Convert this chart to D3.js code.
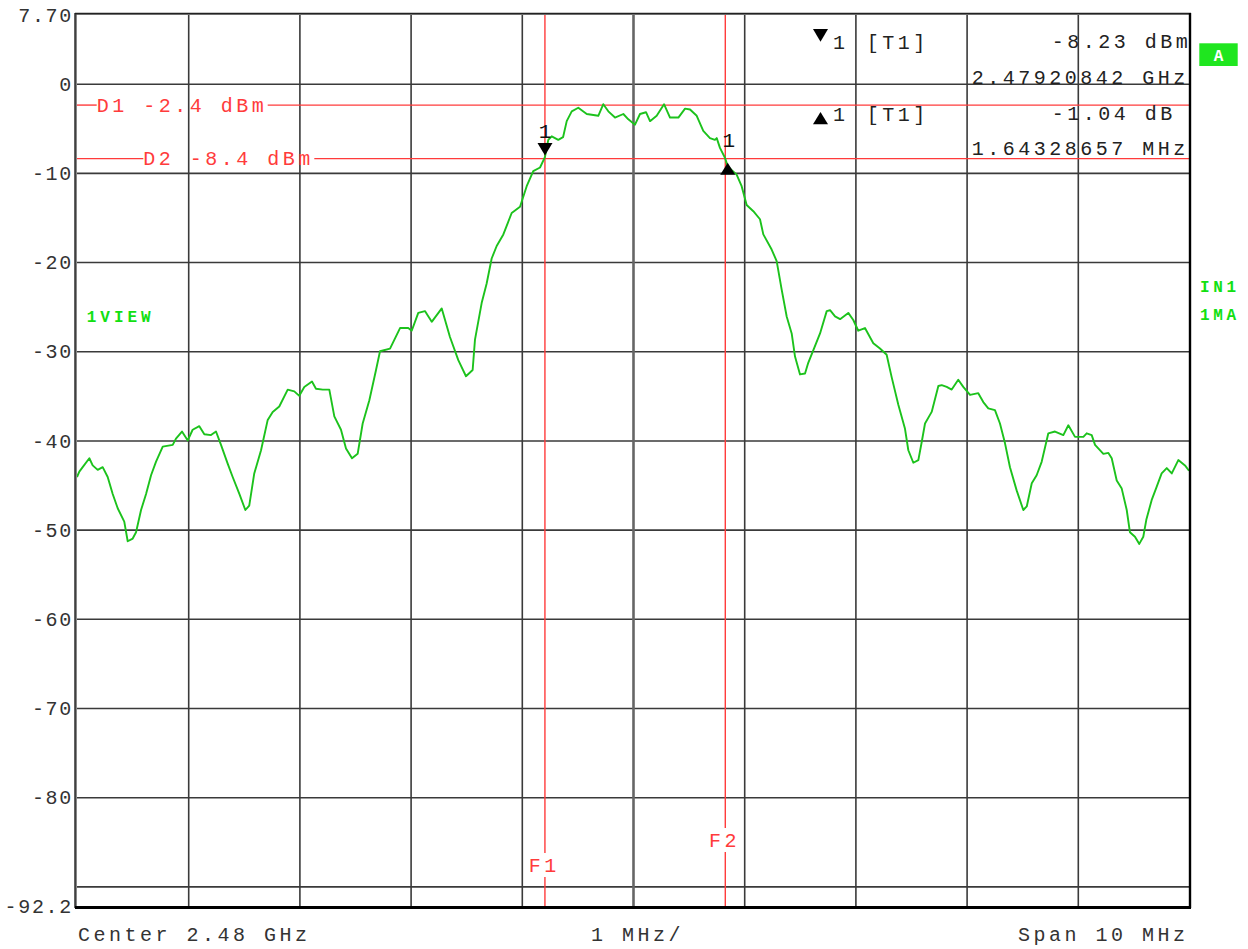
<!DOCTYPE html>
<html>
<head>
<meta charset="utf-8">
<script src="https://cdn.jsdelivr.net/npm/d3@7"></script>
<style>
  html, body { margin: 0; padding: 0; background: #fff; }
  svg { display: block; }
  text { font-family: "Liberation Mono", "DejaVu Sans Mono", monospace; }
</style>
</head>
<body>
<svg id="chart" width="1248" height="949"></svg>
<script>
// ---- Sweep settings ----
const spanMHz = 10;                 // 2.475 GHz .. 2.485 GHz
const refLevel = 7.7;               // dBm, top of screen
const bottomLevel = -92.2;          // dBm, bottom of screen
const levelGrid = [0, -10, -20, -30, -40, -50, -60, -70, -80, -90];
const levelTickValues = [7.7, 0, -10, -20, -30, -40, -50, -60, -70, -80, -92.2];
const levelTickLabels = ["7.70", "0", "-10", "-20", "-30", "-40", "-50", "-60", "-70", "-80", "-92.2"];
const freqGrid = [1, 2, 3, 4, 5, 6, 7, 8, 9];
const footerLabels = ["Center 2.48 GHz", "1 MHz/", "Span 10 MHz"];

// ---- Trace 1: frequency above span start (MHz) and level (dBm) ----
const traceOffset = [
  0.000, 0.021, 0.051, 0.111, 0.141, 0.186, 0.231, 0.276, 0.321, 0.366,
  0.425, 0.456, 0.501, 0.531, 0.576, 0.621, 0.666, 0.710, 0.771, 0.861,
  0.890, 0.944, 0.996, 1.040, 1.100, 1.145, 1.205, 1.250, 1.295, 1.355,
  1.400, 1.460, 1.514, 1.549, 1.594, 1.655, 1.715, 1.760, 1.819, 1.895,
  1.954, 1.999, 2.044, 2.113, 2.149, 2.210, 2.269, 2.314, 2.374, 2.419,
  2.473, 2.524, 2.569, 2.629, 2.689,
  2.725, 2.815, 2.905, 2.979, 3.010, 3.069, 3.129, 3.190, 3.280, 3.354,
  3.429, 3.498, 3.558, 3.579, 3.639, 3.684, 3.729, 3.774, 3.834, 3.909,
  3.984, 4.044, 4.103, 4.164, 4.208, 4.238, 4.269, 4.328, 4.371, 4.404,
  4.449, 4.508, 4.584, 4.688, 4.733, 4.778, 4.838, 4.913, 4.958, 5.018,
  5.063, 5.117, 5.153, 5.213, 5.279, 5.333, 5.408, 5.468, 5.513, 5.573,
  5.632, 5.692, 5.737, 5.753, 5.782, 5.827, 5.852, 5.932, 5.977, 6.022,
  6.082, 6.142, 6.172, 6.247, 6.292, 6.337, 6.382, 6.427, 6.457, 6.502,
  6.547, 6.576, 6.621, 6.682, 6.742, 6.772, 6.817, 6.862, 6.936, 6.981,
  7.026, 7.086, 7.161, 7.221, 7.281, 7.326, 7.386, 7.446, 7.476, 7.521,
  7.566, 7.596, 7.626, 7.686, 7.746, 7.776, 7.821, 7.866, 7.925, 7.970,
  8.031, 8.105, 8.150, 8.195, 8.255, 8.300, 8.345, 8.390, 8.450, 8.510,
  8.541, 8.586, 8.630, 8.675, 8.735, 8.795, 8.870, 8.915, 8.975, 9.050,
  9.080, 9.125, 9.155, 9.230, 9.275, 9.305, 9.350, 9.395, 9.440, 9.469,
  9.514, 9.553, 9.589, 9.616, 9.664, 9.709, 9.754, 9.800, 9.845, 9.904,
  9.964, 10.000
];
const traceLevel = [
  -44.1, -43.5, -43.0, -42.0, -42.8, -43.3, -43.0, -44.1, -46.0, -47.6,
  -49.1, -51.3, -51.0, -50.3, -47.8, -46.0, -43.9, -42.4, -40.7, -40.5,
  -39.8, -39.0, -40.0, -38.8, -38.4, -39.3, -39.4, -39.0, -40.5, -42.6,
  -44.1, -46.0, -47.8, -47.3, -43.7, -41.1, -37.7, -36.8, -36.2, -34.3,
  -34.5, -35.0, -34.0, -33.4, -34.2, -34.3, -34.3, -37.3, -38.8, -40.9,
  -42.0, -41.5, -38.1, -35.5, -32.1,
  -30.0, -29.7, -27.4, -27.4, -27.7, -25.7, -25.5, -26.7, -25.2, -28.4,
  -31.0, -32.8, -32.1, -28.7, -24.6, -22.4, -19.6, -18.2, -16.9, -14.5,
  -13.8, -11.5, -9.8, -9.4, -8.23, -6.3, -5.9, -6.3, -6.0, -4.2,
  -3.1, -2.7, -3.4, -3.6, -2.3, -3.1, -3.8, -3.4, -4.0, -4.6,
  -3.4, -3.2, -4.2, -3.6, -2.3, -3.8, -3.8, -2.8, -2.9, -3.6,
  -5.3, -6.1, -6.3, -6.1, -7.2, -8.3, -9.27, -10.2, -11.5, -13.6,
  -14.3, -15.2, -16.9, -18.6, -19.9, -23.1, -26.1, -28.0, -30.6, -32.6,
  -32.5, -31.3, -29.9, -28.0, -25.5, -25.4, -26.1, -26.4, -25.7, -26.5,
  -27.7, -27.4, -29.1, -29.7, -30.4, -32.9, -36.0, -38.7, -41.1, -42.5,
  -42.2, -40.2, -38.1, -36.8, -33.9, -33.8, -34.0, -34.3, -33.2, -34.0,
  -34.9, -34.7, -35.7, -36.4, -36.6, -38.1, -40.3, -43.0, -45.6, -47.8,
  -47.4, -44.8, -43.9, -42.4, -39.2, -39.0, -39.4, -38.3, -39.6, -39.6,
  -39.2, -39.4, -40.5, -41.5, -41.4, -42.0, -44.5, -45.4, -47.8, -50.3,
  -50.8, -51.6, -50.8, -48.9, -46.7, -45.2, -43.7, -43.1, -43.7, -42.2,
  -42.8, -43.4
];

// ---- Display lines and frequency lines ----
const displayLineNames = ["D1", "D2"];
const displayLineLevels = [-2.4, -8.4];
const freqLineNames = ["F1", "F2"];
const freqLineOffsets = [4.208, 5.83];

// ---- Marker 1 and delta marker 1 ----
const markerOffset = 4.20842;       // MHz above span start
const markerLevel = -8.23;          // dBm
const markerFreqText = "2.47920842 GHz";
const deltaOffset = 1.64328657;     // MHz
const deltaLevel = -1.04;           // dB

// ---- Side annotations ----
const leftTags = ["1VIEW"];
const rightTags = ["IN1", "1MA"];
const traceTag = "A";

// ================= drawing =================
const svg = d3.select("#chart");
const W = 1248, H = 949;
const plot = { left: 77, right: 1189, top: 15, bottom: 906 };
const ADV = 15.5;            // character pitch of the screen font
const LS = ADV - 12;         // letter spacing for 20px mono

const x = d3.scaleLinear().domain([0, spanMHz]).range([plot.left, plot.right]);
const y = d3.scaleLinear().domain([refLevel, bottomLevel]).range([plot.top, plot.bottom]);

svg.append("rect").attr("width", W).attr("height", H).attr("fill", "#fff");

svg.append("defs").append("clipPath").attr("id", "plotClip")
  .append("rect")
  .attr("x", plot.left).attr("y", plot.top)
  .attr("width", plot.right - plot.left).attr("height", plot.bottom - plot.top);

// grid
const gridH = svg.append("g")
  .attr("transform", `translate(${plot.left},0)`)
  .call(d3.axisLeft(y).tickValues(levelGrid).tickSize(-(plot.right - plot.left)).tickFormat(""));
gridH.select(".domain").remove();
gridH.selectAll(".tick line").attr("stroke", "#3a3a3a").attr("stroke-width", 1.6);

const gridV = svg.append("g")
  .attr("transform", `translate(0,${plot.bottom})`)
  .call(d3.axisBottom(x).tickValues(freqGrid).tickSize(-(plot.bottom - plot.top)).tickFormat(""));
gridV.select(".domain").remove();
gridV.selectAll(".tick line")
  .attr("stroke", d => d === 5 ? "#666" : "#3a3a3a")
  .attr("stroke-width", d => d === 5 ? 2.6 : 1.6);

// level labels
const yLab = svg.append("g")
  .attr("transform", `translate(${plot.left},0)`)
  .call(d3.axisLeft(y).tickValues(levelTickValues).tickSize(0).tickPadding(4)
    .tickFormat((d, i) => levelTickLabels[i]));
yLab.select(".domain").remove();
yLab.selectAll(".tick text")
  .attr("fill", "#333")
  .attr("font-size", 20)
  .attr("font-family", "Liberation Mono, DejaVu Sans Mono, monospace")
  .attr("letter-spacing", 1.7)
  .attr("dy", "0.33em");

// footer
const footerX = [plot.left + 1, 591, 1018];
footerLabels.forEach((t, i) => {
  svg.append("text").attr("x", footerX[i]).attr("y", 941)
    .attr("font-size", 20).attr("letter-spacing", LS).attr("fill", "#333").text(t);
});

// display lines (horizontal, broken by their labels)
const red = "#ff3b3b";
const dLabelStart = [19.7, 66.3];  // px from plot left
displayLineNames.forEach((name, i) => {
  const lv = displayLineLevels[i];
  const yy = y(lv);
  const label = `${name} ${lv.toFixed(1)} dBm`;
  const x0 = plot.left + dLabelStart[i];
  const x1 = x0 + label.length * ADV - LS + 4;
  svg.append("line").attr("x1", plot.left).attr("x2", x0).attr("y1", yy).attr("y2", yy)
    .attr("stroke", red).attr("stroke-width", 1.4);
  svg.append("line").attr("x1", x1).attr("x2", plot.right).attr("y1", yy).attr("y2", yy)
    .attr("stroke", red).attr("stroke-width", 1.4);
  svg.append("text").attr("x", x0).attr("y", yy + 6.5)
    .attr("font-size", 20).attr("letter-spacing", LS).attr("fill", red).text(label);
});

// frequency lines (vertical, broken by their labels)
const fLabelBase = [872, 847];
freqLineNames.forEach((name, i) => {
  const xx = x(freqLineOffsets[i]);
  const b = fLabelBase[i];
  svg.append("line").attr("x1", xx).attr("x2", xx).attr("y1", plot.top).attr("y2", b - 19)
    .attr("stroke", red).attr("stroke-width", 1.4);
  svg.append("line").attr("x1", xx).attr("x2", xx).attr("y1", b + 5).attr("y2", plot.bottom)
    .attr("stroke", red).attr("stroke-width", 1.4);
  svg.append("text").attr("x", xx - 16.2).attr("y", b)
    .attr("font-size", 20).attr("letter-spacing", LS).attr("fill", red).text(name);
});

// trace
const traceData = traceOffset.map((f, i) => ({ f, v: traceLevel[i] }));
svg.append("path")
  .datum(traceData)
  .attr("clip-path", "url(#plotClip)")
  .attr("fill", "none")
  .attr("stroke", "#1cc21c")
  .attr("stroke-width", 1.9)
  .attr("stroke-linejoin", "round")
  .attr("d", d3.line().x(d => x(d.f)).y(d => y(d.v)));

// markers
const downTri = (cx, tipY, w, h) => `M${cx - w / 2},${tipY - h}L${cx + w / 2},${tipY - h}L${cx},${tipY}Z`;
const upTri = (cx, apexY, w, h) => `M${cx},${apexY}L${cx + w / 2},${apexY + h}L${cx - w / 2},${apexY + h}Z`;

const mx = x(markerOffset), my = y(markerLevel);
svg.append("path").attr("d", downTri(mx, my - 1.5, 15, 12.5)).attr("fill", "#000");
svg.append("text").attr("x", mx).attr("y", my - 19).attr("text-anchor", "middle")
  .attr("font-size", 21).attr("fill", "#111").text("1");

const dx = x(markerOffset + deltaOffset), dy = y(markerLevel + deltaLevel);
svg.append("path").attr("d", upTri(dx, dy - 3.5, 15, 12)).attr("fill", "#000");
svg.append("text").attr("x", dx + 1).attr("y", dy - 19.5).attr("text-anchor", "middle")
  .attr("font-size", 21).attr("fill", "#111").text("1");

// marker readout
svg.append("defs").append("clipPath").attr("id", "readClip")
  .append("rect").attr("x", 0).attr("y", 0).attr("width", plot.right - 1).attr("height", H);
const rd = svg.append("g").attr("clip-path", "url(#readClip)").attr("fill", "#222");
const rtext = (t, xx, yy) => rd.append("text").attr("x", xx).attr("y", yy)
  .attr("font-size", 20).attr("letter-spacing", LS).text(t);

svg.append("path").attr("d", downTri(820.5, 41.7, 15, 12.7)).attr("fill", "#000");
rtext("1", 833, 49);
rtext("[T1]", 866.7, 49);
rtext(`${markerLevel.toFixed(2)} dBm`, 1051.7, 48);
rtext(markerFreqText, 971.7, 83.5);

svg.append("path").attr("d", upTri(820.5, 112, 15, 12.3)).attr("fill", "#000");
rtext("1", 833, 120.5);
rtext("[T1]", 866.7, 120.5);
rtext(`${deltaLevel.toFixed(2)} dB`, 1051.7, 120);
rtext(`${deltaOffset.toFixed(8)} MHz`, 971.7, 155);

// frame
svg.append("rect")
  .attr("x", plot.left - 1).attr("y", plot.top - 1)
  .attr("width", plot.right - plot.left + 2).attr("height", plot.bottom - plot.top + 2)
  .attr("fill", "none").attr("stroke", "#555").attr("stroke-width", 1.4);
svg.append("line").attr("x1", plot.left - 2).attr("x2", plot.left - 2)
  .attr("y1", plot.top - 2).attr("y2", plot.bottom + 2).attr("stroke", "#222").attr("stroke-width", 1.4);
svg.append("line").attr("x1", plot.left - 2).attr("x2", plot.right + 2)
  .attr("y1", plot.top - 1.5).attr("y2", plot.top - 1.5).attr("stroke", "#222").attr("stroke-width", 1.4);
svg.append("line").attr("x1", plot.right + 1).attr("x2", plot.right + 1)
  .attr("y1", plot.top - 2).attr("y2", plot.bottom + 2).attr("stroke", "#000").attr("stroke-width", 2.4);
svg.append("line").attr("x1", plot.left - 2).attr("x2", plot.right + 2)
  .attr("y1", plot.bottom + 1.5).attr("y2", plot.bottom + 1.5).attr("stroke", "#000").attr("stroke-width", 3);

// side tags
const green = "#12e012";
leftTags.forEach((t, i) => {
  svg.append("text").attr("x", 86.7).attr("y", 321.5 + i * 28)
    .attr("font-size", 16).attr("font-weight", "bold").attr("letter-spacing", 4)
    .attr("fill", green).text(t);
});
rightTags.forEach((t, i) => {
  svg.append("text").attr("x", 1200).attr("y", 292 + i * 28)
    .attr("font-size", 16).attr("font-weight", "bold").attr("letter-spacing", 3.6)
    .attr("fill", green).text(t);
});
svg.append("rect").attr("x", 1199.3).attr("y", 43.3).attr("width", 38.4).attr("height", 22.7)
  .attr("fill", "#1fe61f");
svg.append("text").attr("x", 1218.5).attr("y", 60.5).attr("text-anchor", "middle")
  .attr("font-size", 16).attr("font-weight", "bold").attr("fill", "#fff").text(traceTag);
</script>
</body>
</html>
